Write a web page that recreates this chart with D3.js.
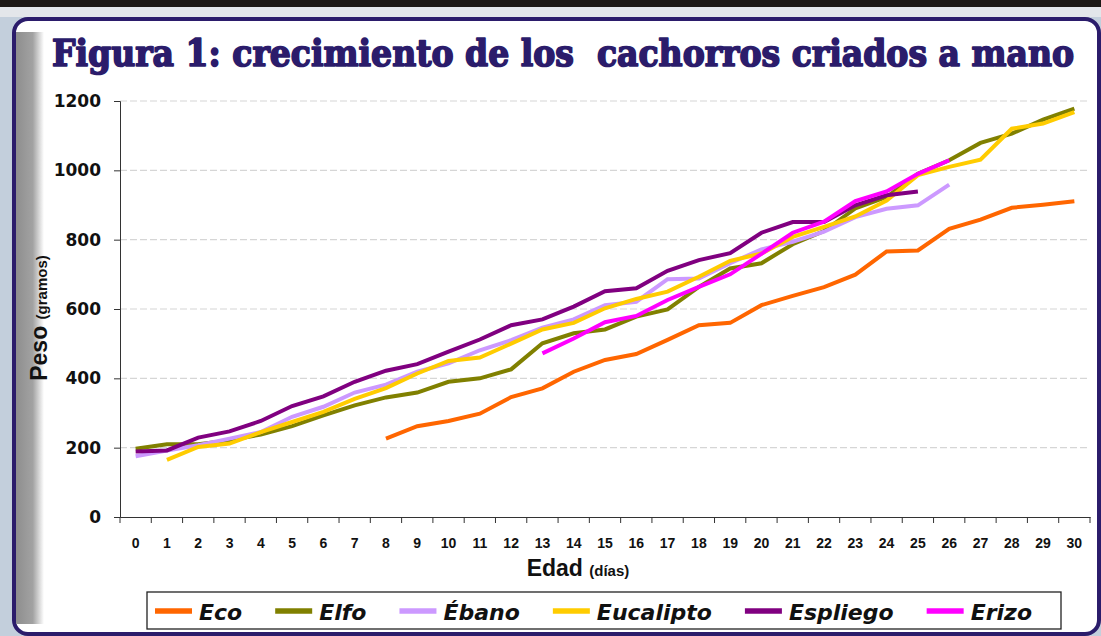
<!DOCTYPE html>
<html>
<head>
<meta charset="utf-8">
<script src="https://cdn.jsdelivr.net/npm/d3@7"></script>
<style>
  html, body { margin: 0; padding: 0; background: #fff; }
  svg { display: block; }
</style>
</head>
<body>
<svg id="s" width="1101" height="636"></svg>
<script>
// Data
const days = d3.range(0, 31),
  dayLabels = days.map(String),
  yTicks = [0, 200, 400, 600, 800, 1000, 1200],
  names = ["Eco", "Elfo", "Ébano", "Eucalipto", "Espliego", "Erizo"],
  colors = ["#ff6600", "#808000", "#cc99ff", "#ffcc00", "#800080", "#ff00ff"],
  eco = [null, null, null, null, null, null, null, null,
    226, 262, 277, 298, 346, 371, 419, 453, 470, 511, 553, 560, 611, 638, 663, 699, 766, 769, 831, 858, 892, 901, 911],
  elfo = [197, 210, 210, 221, 238, 262, 293, 322, 345, 359, 390, 400, 426, 501, 530, 541,
    578, 599, 664, 717, 732, 787, 825, 890, 923, 990, 1029, 1079, 1106, 1146, 1178],
  ebano = [175, 192, 207, 226, 245, 289, 318, 359, 382, 419, 443, 481, 510, 546, 570, 611,
    621, 686, 688, 732, 772, 794, 823, 865, 889, 899, 959],
  eucalipto = [null, 165, 202, 212, 245, 274, 303, 341, 372, 414, 450, 460, 500, 541, 560, 602,
    629, 650, 693, 739, 760, 808, 837, 867, 913, 986, 1010, 1031, 1120, 1135, 1168],
  espliego = [189, 192, 229, 247, 277, 320, 348, 390, 422, 441, 477, 512, 553, 570, 607, 651,
    660, 710, 741, 761, 820, 851, 851, 899, 928, 939],
  erizo = [null, null, null, null, null, null, null, null, null, null, null, null, null,
    472, 515, 562, 580, 626, 664, 700, 759, 820, 852, 911, 939, 990, 1029];

const series = [eco, elfo, ebano, eucalipto, espliego, erizo];

const svg = d3.select("#s"),
  W = 1101, H = 636,
  plot = {left: 120, right: 1090, top: 101, bottom: 517},
  navy = "#2b1c6b";

// Frame / background
const defs = svg.append("defs");
const grad = defs.append("linearGradient").attr("id", "shade").attr("x1", 0).attr("x2", 1);
grad.append("stop").attr("offset", 0).attr("stop-color", "#8e8e8e");
grad.append("stop").attr("offset", 0.6).attr("stop-color", "#a2a2a2");
grad.append("stop").attr("offset", 1).attr("stop-color", "#ffffff");

svg.append("rect").attr("width", W).attr("height", H).attr("fill", "#c3cfdc");
svg.append("rect").attr("width", W).attr("height", 17).attr("fill", "#e3e6ea");
svg.append("rect").attr("width", W).attr("height", 7).attr("fill", "#1c1815");
svg.append("rect")
  .attr("x", 14).attr("y", 19).attr("width", W - 16).attr("height", H - 21)
  .attr("rx", 14)
  .attr("fill", "#fff").attr("stroke", navy).attr("stroke-width", 4);
svg.append("rect")
  .attr("x", 16).attr("y", 32).attr("width", 28).attr("height", H - 44)
  .attr("fill", "url(#shade)");

// Title
svg.append("text")
  .attr("x", 52).attr("y", 66)
  .attr("textLength", 1022).attr("lengthAdjust", "spacingAndGlyphs")
  .style("font-family", "'DejaVu Serif Condensed', 'DejaVu Serif', serif")
  .style("font-stretch", "condensed")
  .style("font-weight", "bold")
  .style("font-size", "37px")
  .attr("fill", navy)
  .attr("stroke", navy).attr("stroke-width", 1.6).attr("stroke-linejoin", "round")
  .attr("xml:space", "preserve")
  .text("Figura 1: crecimiento de los  cachorros criados a mano");

// Scales
const x = d3.scaleBand().domain(days).range([plot.left, plot.right]),
  y = d3.scaleLinear().domain([0, 1200]).range([plot.bottom, plot.top]),
  cx = d => x(d) + x.bandwidth() / 2;

// Gridlines
svg.append("g")
  .selectAll("line")
  .data(yTicks.filter(v => v > 0))
  .join("line")
  .attr("x1", plot.left).attr("x2", plot.right)
  .attr("y1", d => y(d)).attr("y2", d => y(d))
  .attr("stroke", "#d6d6d6").attr("stroke-width", 1.2)
  .attr("stroke-dasharray", "7,3");

// Y axis
const yAxis = svg.append("g")
  .attr("transform", `translate(${plot.left},0)`)
  .call(d3.axisLeft(y).tickValues(yTicks).tickFormat(d => String(d)).tickSize(6).tickPadding(13));
yAxis.select(".domain").attr("stroke", "#333");
yAxis.selectAll(".tick line").attr("stroke", "#333");
yAxis.selectAll(".tick text")
  .style("font-family", "'DejaVu Sans', sans-serif")
  .style("font-weight", "bold")
  .style("font-size", "17px")
  .attr("fill", "#111");

// X axis
const xAxis = svg.append("g")
  .attr("transform", `translate(0,${plot.bottom})`)
  .call(d3.axisBottom(x).tickFormat(d => dayLabels[d]).tickSize(0).tickPadding(21));
xAxis.select(".domain").attr("stroke", "#333");
xAxis.selectAll(".tick text")
  .style("font-family", "'Liberation Sans', Arial, sans-serif")
  .style("font-weight", "bold")
  .style("font-size", "14px")
  .attr("fill", "#111");
// category boundary ticks
xAxis.append("g")
  .selectAll("line")
  .data(days.concat([days.length]))
  .join("line")
  .attr("x1", (d, i) => plot.left + i * x.step())
  .attr("x2", (d, i) => plot.left + i * x.step())
  .attr("y1", 0).attr("y2", 6)
  .attr("stroke", "#333");

// Axis titles
const xt = svg.append("text")
  .attr("x", 578).attr("y", 576)
  .attr("text-anchor", "middle")
  .style("font-family", "'Liberation Sans', Arial, sans-serif")
  .style("font-weight", "bold")
  .attr("fill", "#111");
xt.append("tspan").style("font-size", "23px").text("Edad ");
xt.append("tspan").style("font-size", "15px").text("(días)");

const yt = svg.append("text")
  .attr("transform", "translate(47,318) rotate(-90)")
  .attr("text-anchor", "middle")
  .style("font-family", "'Liberation Sans', Arial, sans-serif")
  .style("font-weight", "bold")
  .attr("fill", "#111");
yt.append("tspan").style("font-size", "23px").text("Peso ");
yt.append("tspan").style("font-size", "15px").text("(gramos)");

// Lines
const line = d3.line()
  .defined(d => d[1] != null)
  .x(d => cx(d[0]))
  .y(d => y(d[1]));

svg.append("g")
  .selectAll("path")
  .data(series)
  .join("path")
  .attr("d", s => line(s.map((v, i) => [i, v])))
  .attr("fill", "none")
  .attr("stroke", (s, i) => colors[i])
  .attr("stroke-width", 4);

// Legend
const lg = svg.append("g");
lg.append("rect")
  .attr("x", 147).attr("y", 592).attr("width", 914).attr("height", 37)
  .attr("fill", "#fff").attr("stroke", "#222").attr("stroke-width", 1.3);

let lx = 155;
names.forEach((n, i) => {
  lg.append("line")
    .attr("x1", lx).attr("x2", lx + 37)
    .attr("y1", 611).attr("y2", 611)
    .attr("stroke", colors[i]).attr("stroke-width", 5.5);
  const t = lg.append("text")
    .attr("x", lx + 44).attr("y", 620)
    .style("font-family", "'DejaVu Sans', sans-serif")
    .style("font-weight", "bold")
    .style("font-style", "italic")
    .style("font-size", "22px")
    .attr("fill", "#111")
    .text(n);
  lx += 44 + t.node().getComputedTextLength() + 33;
});
</script>
</body>
</html>
